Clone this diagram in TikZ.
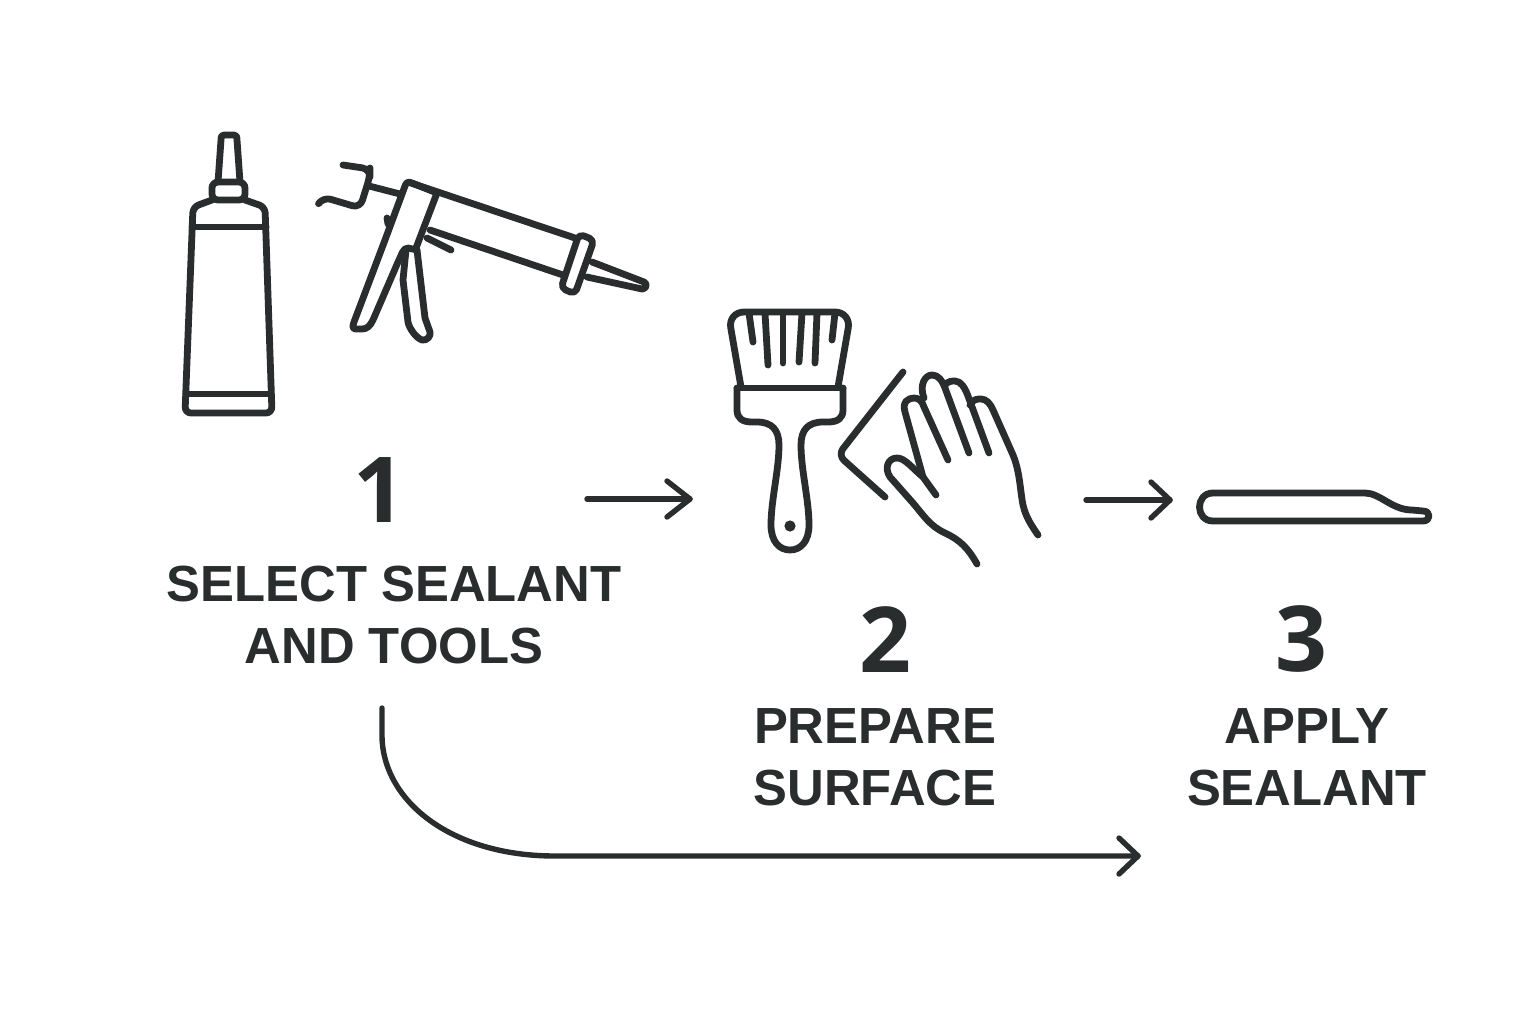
\documentclass[tikz,border=0pt]{standalone}
\usepackage{fontspec}
\setmainfont{Liberation Sans}
\newfontfamily\numfont{Open Sans}[BoldFont={Open Sans Bold}]
\definecolor{ink}{HTML}{2A2D2D}
\tikzset{
  icon/.style={draw=ink,line width=3.4pt,line cap=round,line join=round,fill=none},
  conn/.style={draw=ink,line width=2.7pt,line cap=round,line join=round},
  stepnum/.style={text=ink,font=\fontsize{45.5pt}{46pt}\selectfont\numfont\bfseries,anchor=center,inner sep=0pt},
  steplabel/.style={text=ink,font=\fontsize{25.4pt}{31pt}\selectfont\bfseries,anchor=center,inner sep=0pt,align=center},
}
\begin{document}
\begin{tikzpicture}[x=0.5pt,y=-0.5pt]
\useasboundingbox (0,0) rectangle (1536,1024);
\fill[white] (0,0) rectangle (1536,1024);

% tube
\draw[icon] (218,182) -- (221,140) .. controls (221,136) and (222,135) .. (224,135) -- (234,135) .. controls (236,135) and (237,136) .. (237,140) -- (240,182);
\draw[icon,rounded corners=3pt] (212,200) -- (212,182) -- (245,182) -- (245,200) -- cycle;
\draw[icon,rounded corners=3pt] (212,200) -- (193,207) -- (185,413) -- (272,413) -- (265,207) -- (245,200);
\draw[icon] (192,227) -- (266,227);
\draw[icon] (186,394) -- (270,394);

% caulking gun
\draw[icon,rounded corners=4pt] (343,165) -- (370,169) -- (370,176) -- (360,208) -- (323,197) -- (319,203);
\draw[icon] (369,186) -- (400,194);
\draw[icon] (437,193) -- (412,183) .. controls (408,181) and (406,183) .. (405,186)
  -- (385,240) -- (354,322) .. controls (352,327) and (353,329) .. (356,329)
  -- (362,329) .. controls (367,329) and (370,326) .. (373,320)
  -- (398,262) .. controls (402,254) and (403,248) .. (408,248) -- (417,250);
\draw[icon] (411,183) -- (575,238);
\draw[icon] (437,193) -- (416,248);
\draw[icon] (406,250) -- (403,280) -- (408,322) .. controls (409,328) and (416,338) .. (422,340)
  .. controls (427,341) and (431,336) .. (430,332) -- (425,318) -- (417,250);
\draw[icon] (430,230) -- (563,275);
\draw[icon] (427,238) -- (451,250);
\draw[icon] (387,218) -- (388,224);
\draw[icon,rounded corners=2.5pt] (579,234) -- (594,240) -- (575,294) -- (561,288) -- cycle;
\draw[icon] (592,262) -- (644,282) .. controls (648,284) and (646,289) .. (642,289) -- (587,277);

% brush
\draw[icon,rounded corners=8pt] (741,387) -- (728,312) -- (851,312) -- (838,387);
\foreach \xa/\ya/\xb/\yb in {749/313/753/342,765/313/768/365,783/313/783/363,802/313/799/362,817/313/815/363,835/313/832/340}
  \draw[icon] (\xa,\ya) -- (\xb,\yb);
\draw[icon] (737,388) -- (843,388);
\draw[icon] (737,388) -- (737,410) .. controls (737,418) and (742,422) .. (752,422)
  -- (757,422) .. controls (772,422) and (779,430) .. (779,445)
  .. controls (779,470) and (771,500) .. (771,525)
  .. controls (771,541) and (779,550) .. (790,550)
  .. controls (801,550) and (809,541) .. (809,525)
  .. controls (809,500) and (801,470) .. (801,445)
  .. controls (801,430) and (808,422) .. (823,422)
  -- (828,422) .. controls (838,422) and (843,418) .. (843,410) -- (843,388);
\fill[ink] (790,526) circle (2.8pt);

% cloth
\draw[icon,rounded corners=4pt] (903,372) -- (838,455) -- (885,497);

% hand
\draw[icon] (977,564) .. controls (968,548) and (960,540) .. (945,533)
  .. controls (930,526) and (924,516) .. (913,503)
  -- (890,477) .. controls (884,468) and (888,458) .. (897,458)
  .. controls (905,458) and (912,468) .. (923,477) -- (936,495);
\draw[icon] (923,477) -- (905,412) .. controls (902,402) and (908,398) .. (914,398)
  .. controls (919,398) and (922,401) .. (924,407) -- (948,460);
\draw[icon] (924,398) .. controls (919,385) and (925,375) .. (932,375)
  .. controls (938,375) and (942,380) .. (945,388) -- (969,453);
\draw[icon] (945,385) .. controls (948,381) and (952,381) .. (955,381)
  .. controls (961,381) and (965,388) .. (968,396) -- (989,453);
\draw[icon] (970,405) .. controls (973,399) and (977,399) .. (981,399)
  .. controls (986,399) and (990,403) .. (993,410)
  -- (1013,455) .. controls (1020,472) and (1020,490) .. (1023,505)
  .. controls (1026,518) and (1032,526) .. (1038,535);

% bead
\draw[icon] (1213,493) -- (1365,493) .. controls (1380,493) and (1392,510) .. (1412,510)
  -- (1423,511) .. controls (1431,511) and (1431,521) .. (1423,521) -- (1213,521)
  .. controls (1195,521) and (1195,493) .. (1213,493) -- cycle;

% texts
\node[stepnum] (n1) at (379,490) {1};
\node[steplabel] (l1) at (394,615) {SELECT SEALANT\\AND TOOLS};
\node[stepnum] (n2) at (885,640) {2};
\node[steplabel] (l2) at (875,757) {PREPARE\\SURFACE};
\node[stepnum] (n3) at (1301,639) {3};
\node[steplabel] (l3) at (1307,757) {APPLY\\SEALANT};

% connectors
\coordinate (a1s) at (587,499); \coordinate (a1e) at (690,499);
\coordinate (a2s) at (1086,500); \coordinate (a2e) at (1170,500);
\coordinate (a3s) at (382,708); \coordinate (a3e) at (1138,856);
\draw[conn] (a1s) -- (a1e);
\draw[conn] ([xshift=-11.5pt,yshift=-9pt]a1e) -- (a1e) -- ([xshift=-11.5pt,yshift=9pt]a1e);
\draw[conn] (a2s) -- (a2e);
\draw[conn] ([xshift=-9.5pt,yshift=-9pt]a2e) -- (a2e) -- ([xshift=-9.5pt,yshift=9pt]a2e);
\draw[conn] (a3s) -- (382,735) .. controls (382,800) and (450,856) .. (555,856) -- (a3e);
\draw[conn] ([xshift=-9.5pt,yshift=-9pt]a3e) -- (a3e) -- ([xshift=-9.5pt,yshift=9pt]a3e);
\end{tikzpicture}
\end{document}
